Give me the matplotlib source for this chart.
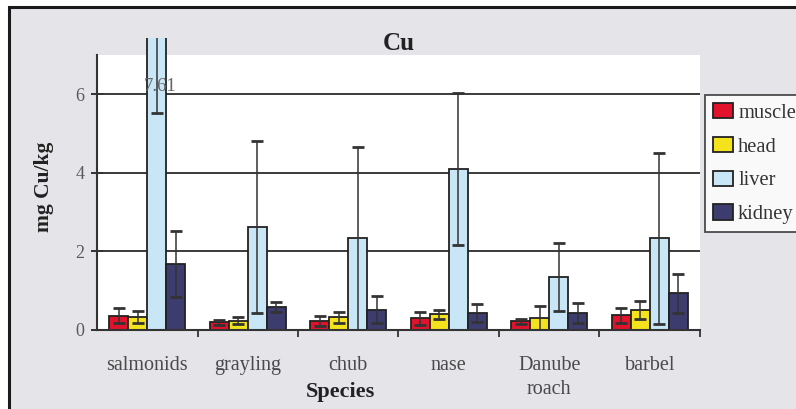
import numpy as np
import matplotlib
matplotlib.use("Agg")
import matplotlib.pyplot as plt
from matplotlib.patches import Rectangle
from matplotlib.transforms import Bbox, TransformedBbox
from matplotlib.legend_handler import HandlerPatch

# Species on the x axis
species = ["salmonids", "grayling", "chub", "nase", "Danube\nroach", "barbel"]
tissues = ["muscle", "head", "liver", "kidney"]

# Mean Cu content (mg Cu/kg) per tissue
muscle = [0.36, 0.20, 0.23, 0.30, 0.22, 0.37]
head = [0.33, 0.24, 0.32, 0.40, 0.30, 0.52]
liver = [7.61, 2.63, 2.33, 4.10, 1.35, 2.33]
kidney = [1.68, 0.58, 0.52, 0.43, 0.43, 0.93]

# Standard deviations
muscle_sd = [0.19, 0.06, 0.12, 0.16, 0.07, 0.18]
head_sd = [0.16, 0.08, 0.15, 0.12, 0.30, 0.23]
liver_sd = [2.09, 2.19, 2.33, 1.93, 0.86, 2.17]
kidney_sd = [0.85, 0.13, 0.35, 0.23, 0.25, 0.50]

outlier_label = "7.61"

colors = ["#e0122c", "#f4e21c", "#c8e6f6", "#3d3c6e"]


def draw_bars(ax, clip):
    x = np.arange(len(species))
    width = 0.19
    means = [muscle, head, liver, kidney]
    sds = [muscle_sd, head_sd, liver_sd, kidney_sd]
    for k in range(len(tissues)):
        pos = x + (k - 1.5) * width
        bars = ax.bar(pos, means[k], width, color=colors[k], edgecolor="#222222",
                      linewidth=1.3, label=tissues[k], zorder=2)
        for b in bars:
            b.set_clip_box(clip)
        eb = ax.errorbar(pos, means[k], yerr=sds[k], fmt="none", ecolor="#333333",
                         elinewidth=1.1, capsize=4, capthick=2, zorder=3)
        for part in eb.lines[1] + eb.lines[2]:
            part.set_clip_box(clip)
    # value of the bar that runs off the scale
    ax.text(x[0] + 0.5 * width + 0.035, 6.2, outlier_label, ha="center", va="center",
            fontsize=13.5, color="#666666", zorder=4)


def main():
    plt.rcParams["font.family"] = ["Liberation Serif", "DejaVu Serif"]
    fig = plt.figure(figsize=(7.96, 4.09), dpi=100, facecolor="white")

    # grey chart area with dark frame at top and left
    fig.patches.append(Rectangle((9 / 796, -0.2), 1.2, 1.2 - 7 / 409,
                                 transform=fig.transFigure, facecolor="#e4e4e9",
                                 edgecolor="#1a1a1a", linewidth=2.2, zorder=-5))

    ax = fig.add_axes([97 / 796, 1 - 330 / 409, 603 / 796, 275 / 409])
    ax.set_facecolor("white")

    clip = TransformedBbox(Bbox([[0, 0], [1, 1.062]]), ax.transAxes)
    draw_bars(ax, clip)

    ax.set_xlim(-0.5, len(species) - 0.5)
    ax.set_ylim(0, 7)
    ax.set_yticks([0, 2, 4, 6])
    ax.yaxis.grid(True, color="#3a3a3a", linewidth=1.4, zorder=0)
    ax.set_axisbelow(True)

    ax.set_xticks(np.arange(len(species)))
    ax.set_xticklabels(species, fontsize=14.5, color="#4a4a4a", linespacing=1.35)
    ax.set_xticks(np.arange(len(species)) + 0.5, minor=True)
    ax.tick_params(axis="x", which="major", length=0, pad=19)
    ax.tick_params(axis="x", which="minor", length=5, width=1.3, direction="out", color="#333333")
    ax.tick_params(axis="y", length=8, width=1.4, direction="inout", color="#333333",
                   labelsize=13, labelcolor="#5a5a5a", pad=5)

    for side in ["top", "right"]:
        ax.spines[side].set_visible(False)
    for side in ["left", "bottom"]:
        ax.spines[side].set_color("#333333")
        ax.spines[side].set_linewidth(1.5)

    ax.set_title("Cu", fontsize=18, fontweight="bold", color="#222222", pad=3)
    ax.set_ylabel("mg Cu/kg", fontsize=15.5, fontweight="bold", color="#222222")
    ax.yaxis.set_label_coords(-0.072, 0.52)
    ax.set_xlabel("Species", fontsize=16, fontweight="bold", color="#222222")
    ax.xaxis.set_label_coords(0.403, -0.19)

    leg = fig.legend(loc="upper left", bbox_to_anchor=(705 / 796, 1 - 95 / 409),
                     fontsize=14.8, frameon=True, fancybox=False, edgecolor="#222222",
                     facecolor="white", handlelength=1.0, handleheight=0.78,
                     handletextpad=0.23, labelspacing=0.68, borderpad=0.38,
                     borderaxespad=0,
                     handler_map={Rectangle: HandlerPatch(xpad=0.22)})
    leg.get_frame().set_linewidth(1.3)
    for t in leg.get_texts():
        t.set_color("#333333")

    fig.savefig("out.png", dpi=100)


if __name__ == "__main__":
    main()
